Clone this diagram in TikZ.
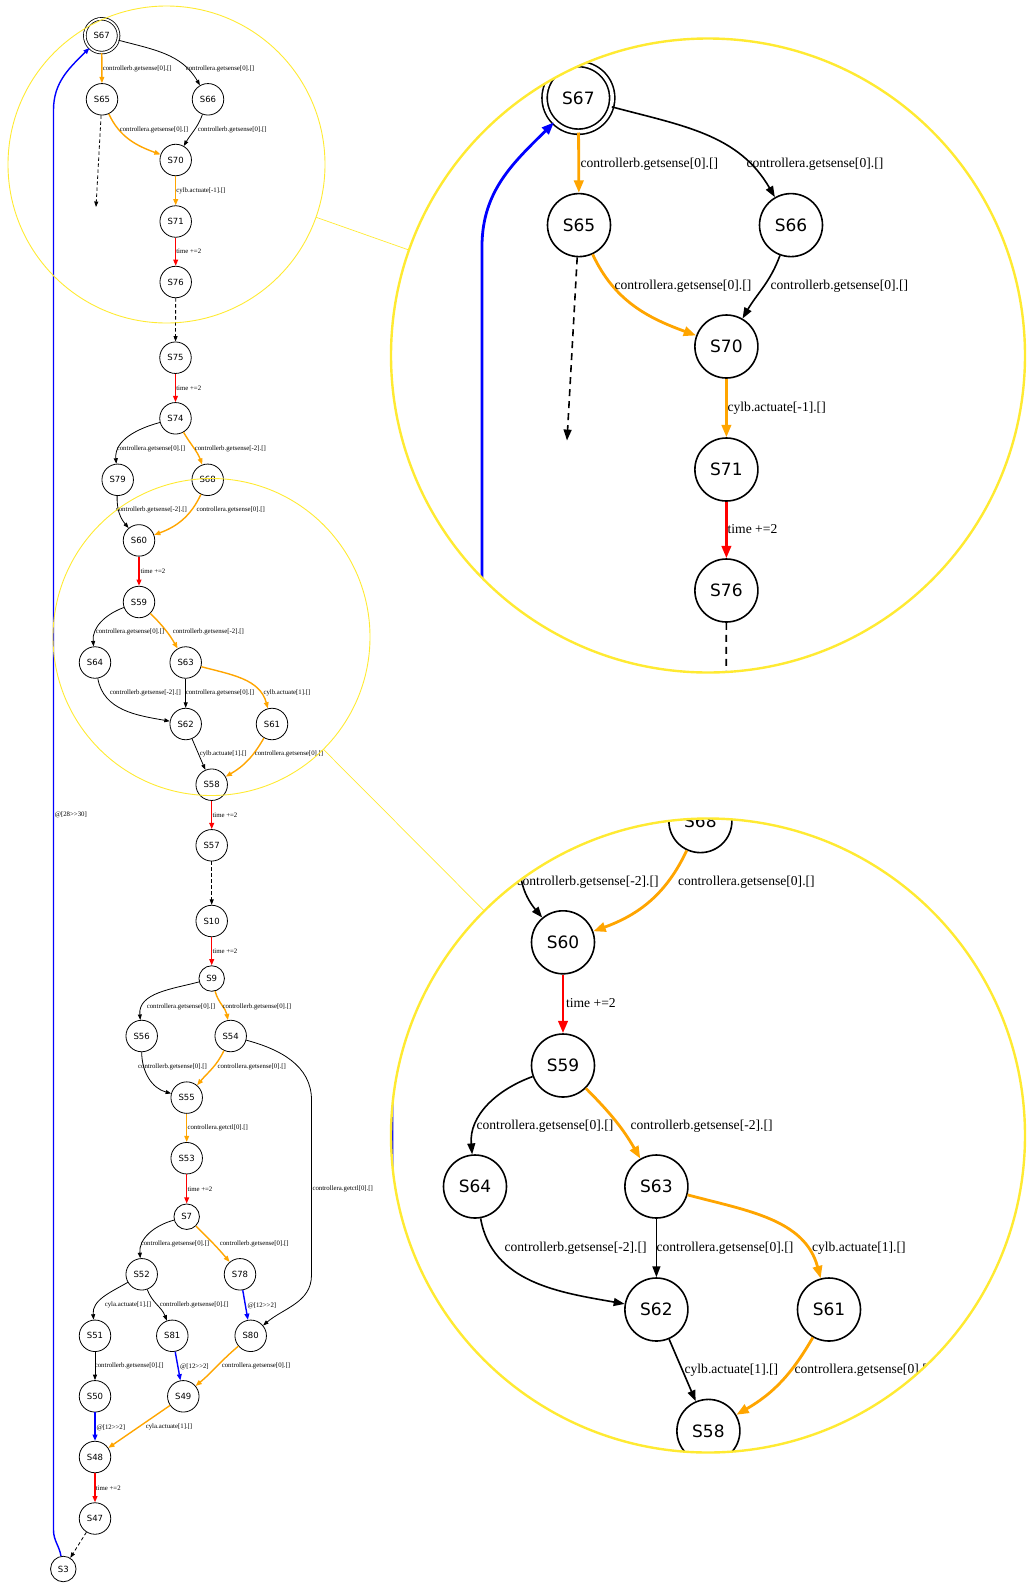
\documentclass[tikz,border=0pt]{standalone}
\usepackage{fontspec}
\setmainfont{Liberation Serif}
\newfontfamily\gvsans{DejaVu Sans}
\usetikzlibrary{arrows.meta,spy}
\definecolor{gvorange}{RGB}{255,165,0}
\definecolor{spyyellow}{RGB}{255,234,50}

\tikzset{
  st/.style={circle, draw, line width=0.8pt, minimum size=31.5pt, inner sep=0pt, font=\gvsans\fontsize{8.5}{10}\selectfont},
  sst/.style={st, minimum size=25.5pt},
  lbl/.style={anchor=west, inner sep=0.6pt, font=\fontsize{6.8}{8}\selectfont},
  tr/.style={line width=0.8pt, -{Triangle[length=4.5pt 1.2, width=3pt 1.2]}},
  org/.style={tr, gvorange, line width=1.4pt},
  rd/.style={tr, red, line width=1.4pt},
  bl/.style={tr, blue, line width=1.4pt},
  dsh/.style={tr, dash pattern=on 3.5pt off 2.5pt},
  zoomview/.style={every spy on node/.append style={line width=0.9pt}},
}

\begin{document}
\begin{tikzpicture}[x=1pt, y=1pt,
  spy using outlines={circle, spyyellow, magnification=2, size=634pt},
  spy connection path={\draw[spyyellow, line width=0.7pt] (tikzspyonnode) -- (tikzspyinnode);}]
\useasboundingbox (0,0) rectangle (1021,-1583);

% states
\node[st, double, double distance=1.8pt, minimum size=33.8pt] (S67) at (101.7,-35.7) {S67};
\node[st] (S65) at (102,-99.3) {S65};
\node[st] (S66) at (208,-99.3) {S66};
\node[st] (S70) at (175.7,-160) {S70};
\node[st] (S71) at (175.7,-221.5) {S71};
\node[st] (S76) at (175.7,-282) {S76};
\node[st] (S75) at (175.5,-357.7) {S75};
\node[st] (S74) at (175.5,-418.3) {S74};
\node[st] (S79) at (117.7,-479.8) {S79};
\node[st] (S68) at (207.7,-479.8) {S68};
\node[st] (S60) at (139,-540.4) {S60};
\node[st] (S59) at (139,-602) {S59};
\node[st] (S64) at (95,-662.5) {S64};
\node[st] (S63) at (185.7,-662.5) {S63};
\node[st] (S62) at (185.7,-724) {S62};
\node[st] (S61) at (272,-724) {S61};
\node[st] (S58) at (211.7,-784.7) {S58};
\node[st] (S57) at (211.7,-845.3) {S57};
\node[st] (S10) at (211.7,-921) {S10};
\node[sst] (S9) at (211.7,-978.5) {S9};
\node[st] (S56) at (141.7,-1036) {S56};
\node[st] (S54) at (230.7,-1036) {S54};
\node[st] (S55) at (186.7,-1097.6) {S55};
\node[st] (S53) at (186.7,-1158.2) {S53};
\node[sst] (S7) at (186.7,-1216.7) {S7};
\node[st] (S52) at (141.7,-1274.3) {S52};
\node[st] (S78) at (240,-1274.3) {S78};
\node[st] (S51) at (95,-1335.8) {S51};
\node[st] (S81) at (172.3,-1335.8) {S81};
\node[st] (S80) at (250.7,-1335.8) {S80};
\node[st] (S50) at (95,-1396.3) {S50};
\node[st] (S49) at (183.3,-1396.3) {S49};
\node[st] (S48) at (95,-1457) {S48};
\node[st] (S47) at (95,-1518.5) {S47};
\node[sst] (S3) at (63.3,-1569) {S3};
\coordinate (S65x) at (96,-207);

% transitions
\draw[org] (S67) -- (S65);
\draw[tr] (S67) to[out=-15,in=120] (S66);
\draw[org] (S65) to[out=-65,in=160] (S70);
\draw[tr] (S66) to[out=-110,in=60] (S70);
\draw[dsh] (S65) -- (S65x);
\draw[org] (S70) -- (S71);
\draw[rd] (S71) -- (S76);
\draw[dsh] (S76) -- (S75);
\draw[rd] (S75) -- (S74);
\draw[tr] (S74) to[out=195,in=95] (S79);
\draw[org] (S74) to[out=-60,in=110] (S68);
\draw[tr] (S79) to[out=-92,in=130] (S60);
\draw[org] (S68) to[out=-115,in=20] (S60);
\draw[rd] (S60) -- (S59);
\draw[tr] (S59) to[out=200,in=95] (S64);
\draw[org] (S59) to[out=-45,in=120] (S63);
\draw[tr] (S64) to[out=-80,in=170] (S62);
\draw[tr] (S63) -- (S62);
\draw[org] (S63) to[out=-15,in=105] (S61);
\draw[tr] (S62) -- (S58);
\draw[org] (S61) to[out=-120,in=30] (S58);
\draw[rd] (S58) -- (S57);
\draw[dsh] (S57) -- (S10);
\draw[rd] (S10) -- (S9);
\draw[tr] (S9) to[out=195,in=95] (S56);
\draw[org] (S9) to[out=-75,in=100] (S54);
\draw[tr] (S56) to[out=-90,in=165] (S55);
\draw[org] (S54) to[out=-115,in=50] (S55);
\draw[tr] (S54) to[out=-15,in=90] (311.5,-1100) -- (311.5,-1275) to[out=-90,in=40] (S80);
\draw[org] (S55) -- (S53);
\draw[rd] (S53) -- (S7);
\draw[tr] (S7) to[out=195,in=95] (S52);
\draw[org] (S7) to[out=-45,in=130] (S78);
\draw[tr] (S52) to[out=210,in=95] (S51);
\draw[tr] (S52) to[out=-70,in=110] (S81);
\draw[bl] (S78) -- (S80);
\draw[tr] (S51) -- (S50);
\draw[bl] (S81) -- (S49);
\draw[org] (S80) to[out=-140,in=40] (S49);
\draw[bl] (S50) -- (S48);
\draw[org] (S49) -- (S48);
\draw[rd] (S48) -- (S47);
\draw[dsh] (S47) -- (S3);
\draw[bl] (S3) to[out=100,in=-90] (53.5,-1530) -- (53.5,-110) to[out=90,in=225] (S67);

% labels
\node[lbl] (l1) at (102,-69) {controllerb.getsense[0].[]};
\node[lbl] (l2) at (185,-69) {controllera.getsense[0].[]};
\node[lbl] (l3) at (119,-129.8) {controllera.getsense[0].[]};
\node[lbl] (l4) at (197,-129.8) {controllerb.getsense[0].[]};
\node[lbl] (l5) at (175.5,-191) {cylb.actuate[-1].[]};
\node[lbl] (l6) at (175.5,-251.5) {time +=2};
\node[lbl] (l7) at (175.5,-388) {time +=2};
\node[lbl] (l8) at (116,-449) {controllera.getsense[0].[]};
\node[lbl] (l9) at (194,-449) {controllerb.getsense[-2].[]};
\node[lbl] (l10) at (115,-510.3) {controllerb.getsense[-2].[]};
\node[lbl] (l11) at (195.7,-510.3) {controllera.getsense[0].[]};
\node[lbl] (l12) at (139.7,-571) {time +=2};
\node[lbl] (l13) at (95,-632.3) {controllera.getsense[0].[]};
\node[lbl] (l14) at (172,-632.3) {controllerb.getsense[-2].[]};
\node[lbl] (l15) at (109,-693.3) {controllerb.getsense[-2].[]};
\node[lbl] (l16) at (185,-693.3) {controllera.getsense[0].[]};
\node[lbl] (l17) at (262.7,-693.3) {cylb.actuate[1].[]};
\node[lbl] (l18) at (199,-754.3) {cylb.actuate[1].[]};
\node[lbl] (l19) at (254,-754.3) {controllera.getsense[0].[]};
\node[lbl] (l20) at (211.7,-815) {time +=2};
\node[lbl] (l21) at (54,-815) {@[28>{}>30]};
\node[lbl] (l22) at (211.7,-951.7) {time +=2};
\node[lbl] (l23) at (146,-1006.7) {controllera.getsense[0].[]};
\node[lbl] (l24) at (221.7,-1006.7) {controllerb.getsense[0].[]};
\node[lbl] (l25) at (137.3,-1067.3) {controllerb.getsense[0].[]};
\node[lbl] (l26) at (216.7,-1067.3) {controllera.getsense[0].[]};
\node[lbl] (l27) at (186.7,-1128.3) {controllera.getctl[0].[]};
\node[lbl] (l28) at (311.7,-1189.3) {controllera.getctl[0].[]};
\node[lbl] (l29) at (186.7,-1189.3) {time +=2};
\node[lbl] (l30) at (140,-1244.3) {controllera.getsense[0].[]};
\node[lbl] (l31) at (219,-1244.3) {controllerb.getsense[0].[]};
\node[lbl] (l32) at (104,-1305.3) {cyla.actuate[1].[]};
\node[lbl] (l33) at (159,-1305.3) {controllerb.getsense[0].[]};
\node[lbl] (l34) at (246.7,-1305.3) {@[12>{}>2]};
\node[lbl] (l35) at (94,-1366.3) {controllerb.getsense[0].[]};
\node[lbl] (l36) at (179.3,-1366.3) {@[12>{}>2]};
\node[lbl] (l37) at (221,-1366.3) {controllera.getsense[0].[]};
\node[lbl] (l38) at (95.7,-1427.3) {@[12>{}>2]};
\node[lbl] (l39) at (145,-1427.3) {cyla.actuate[1].[]};
\node[lbl] (l40) at (95,-1488) {time +=2};

% magnified views
\spy[zoomview] on (166.5,-164.5) in node[line width=2.4pt] at (708,-355.5);
\spy[zoomview] on (211.5,-637) in node[line width=2.4pt] at (708,-1135.5);
\end{tikzpicture}
\end{document}
